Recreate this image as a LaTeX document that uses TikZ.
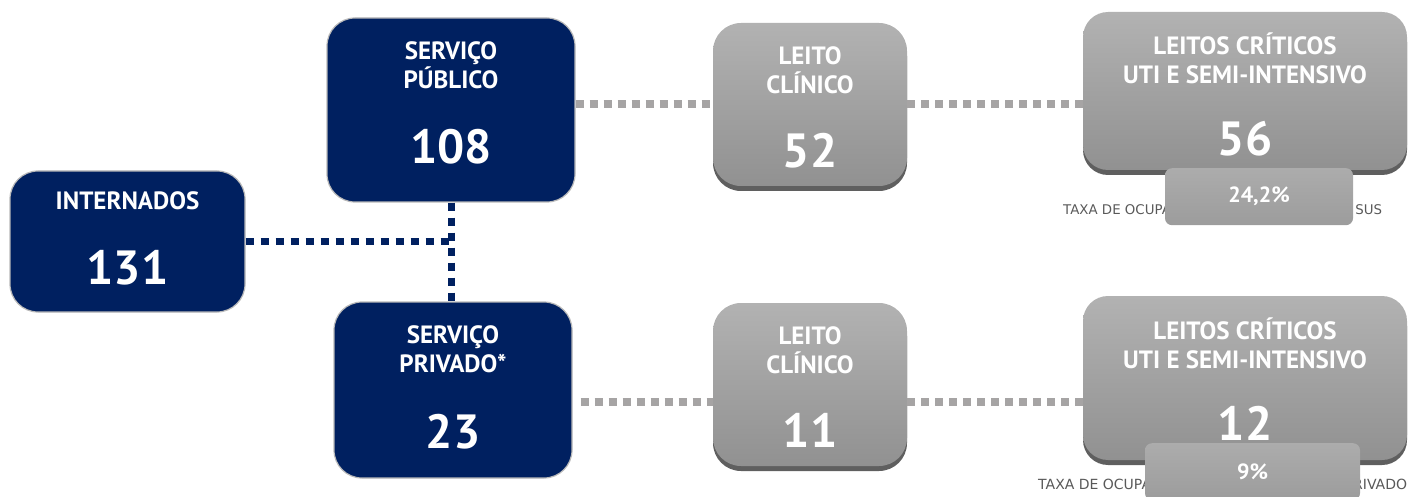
\documentclass[tikz,border=0pt]{standalone}
\usepackage{fontspec}
\setmainfont{PT Sans}
\newfontfamily\notefont{DejaVu Sans}
\usepackage{tikz}
\usetikzlibrary{shadows}
\definecolor{navyfill}{RGB}{0,32,96}
\definecolor{navyline}{RGB}{185,185,185}
\definecolor{boxtop}{RGB}{178,178,178}
\definecolor{boxbottom}{RGB}{145,145,145}
\definecolor{boxshadow}{RGB}{95,95,95}
\definecolor{ratetop}{RGB}{172,172,172}
\definecolor{ratebottom}{RGB}{156,156,156}
\definecolor{dotgray}{RGB}{166,164,164}
\definecolor{notegray}{RGB}{89,89,89}

\begin{document}
\begin{tikzpicture}[x=1pt, y=1pt,
    box/.style={rectangle,
      rounded corners=28pt,
      inner sep=0pt,
      anchor=center},
    navybox/.style={box,
      fill=navyfill,
      draw=navyline,
      line width=1.2pt},
    graybox/.style={box,
      top color=boxtop,
      bottom color=boxbottom,
      drop shadow={shadow xshift=0pt, shadow yshift=-5pt,
        fill=boxshadow, opacity=1}},
    ratebox/.style={rectangle,
      rounded corners=7pt,
      top color=ratetop,
      bottom color=ratebottom,
      text=white,
      font=\fontsize{22}{24}\selectfont\bfseries},
    title/.style={text=white,
      align=center,
      font=\fontsize{25}{29}\selectfont\bfseries},
    count/.style={text=white,
      font=\fontsize{48}{50}\selectfont\bfseries},
    note/.style={text=notegray,
      anchor=west,
      inner sep=0pt},
    navydots/.style={draw=navyfill,
      line width=7pt,
      dash pattern=on 8pt off 7pt},
    graydots/.style={draw=dotgray,
      line width=8pt,
      dash pattern=on 8pt off 6pt}]
  \useasboundingbox (0,0) rectangle (1408,496);

  % BOXES

  \node[navybox, minimum width=235pt, minimum height=141pt]
    (intern) at (127.5,254.5) {};
  \node[title] at ([yshift=-30pt]intern.north) {INTERNADOS};
  \node[count] at ([yshift=-97pt]intern.north) {131};

  \node[navybox, minimum width=248pt, minimum height=184pt]
    (pub) at (451,386) {};
  \node[title] at ([yshift=-48pt]pub.north) {SERVIÇO\\PÚBLICO};
  \node[count] at ([yshift=-129pt]pub.north) {108};

  \node[navybox, minimum width=238pt, minimum height=176pt]
    (priv) at (453,106) {};
  \node[title] at ([yshift=-48pt]priv.north) {SERVIÇO\\PRIVADO*};
  \node[count] at ([yshift=-130pt]priv.north) {23};

  \node[graybox, minimum width=194pt, minimum height=163pt]
    (clin1) at (810,391.5) {};
  \node[title] at ([yshift=-47pt]clin1.north) {LEITO\\CLÍNICO};
  \node[count] at ([yshift=-128pt]clin1.north) {52};

  \node[graybox, minimum width=194pt, minimum height=163pt]
    (clin2) at (810,111.5) {};
  \node[title] at ([yshift=-47pt]clin2.north) {LEITO\\CLÍNICO};
  \node[count] at ([yshift=-128pt]clin2.north) {11};

  \node[graybox, rounded corners=25pt, minimum width=324pt, minimum height=158pt]
    (crit1) at (1245,405) {};
  \node[title] at ([yshift=-47pt]crit1.north)
    {LEITOS CRÍTICOS\\UTI E SEMI-INTENSIVO};
  \node[count] at ([yshift=-127pt]crit1.north) {56};

  \node[graybox, rounded corners=25pt, minimum width=324pt, minimum height=164pt]
    (crit2) at (1245,118) {};
  \node[title] at ([yshift=-47pt]crit2.north)
    {LEITOS CRÍTICOS\\UTI E SEMI-INTENSIVO};
  \node[count] at ([yshift=-128pt]crit2.north) {12};

  % OCCUPANCY

  \node[note, font=\notefont\fontsize{13.35}{15}\selectfont] (note1) at (1063,286)
    {TAXA DE OCUPAÇÃO DOS LEITOS CRÍTICOS SUS};
  \node[ratebox, minimum width=188pt, minimum height=57pt]
    (rate1) at ([xshift=14pt, yshift=-26.5pt]crit1.south) {24,2\%};

  \node[note, font=\notefont\fontsize{14}{16}\selectfont] (note2) at (1038,12)
    {TAXA DE OCUPAÇÃO DOS LEITOS CRÍTICOS PRIVADO};
  \node[ratebox, minimum width=215pt, minimum height=57pt]
    (rate2) at ([xshift=7.5pt, yshift=-11.5pt]crit2.south) {9\%};

  % CONNECTORS

  \draw[navydots] (intern.east) -- (intern.east -| pub.south);
  \draw[navydots] (pub.south) -- (pub.south |- priv.north);

  \draw[graydots] (pub.east |- clin1.west) -- (clin1.west);
  \draw[graydots] (clin1.east) -- (clin1.east -| crit1.west);
  \draw[graydots] ([xshift=8pt, yshift=-12pt]priv.east)
    -- ([yshift=-17.5pt]clin2.west);
  \draw[graydots] ([yshift=-17.5pt]clin2.east)
    -- ([yshift=-17.5pt]clin2.east -| crit2.west);

\end{tikzpicture}
\end{document}
